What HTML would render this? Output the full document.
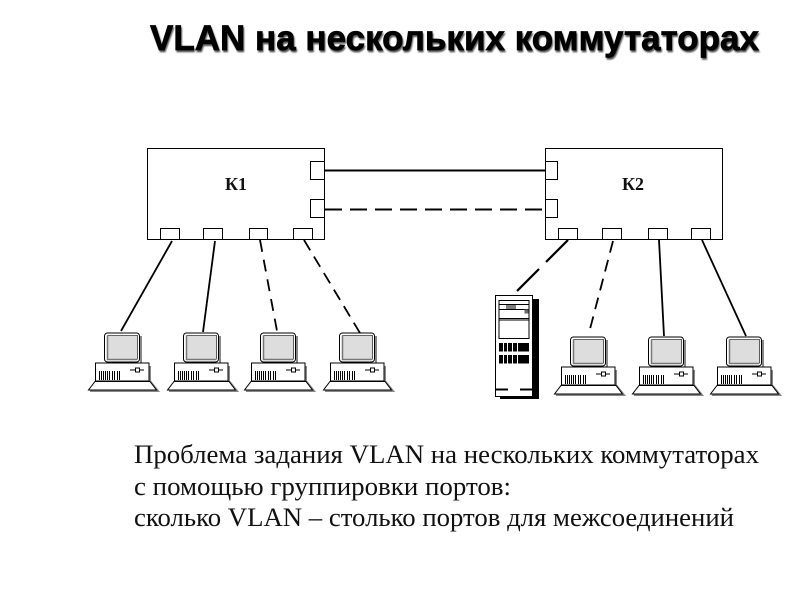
<!DOCTYPE html>
<html><head><meta charset="utf-8"><style>
html,body{margin:0;padding:0;background:#fff}
svg{display:block}
</style></head><body>
<svg width="800" height="600" viewBox="0 0 800 600" xmlns="http://www.w3.org/2000/svg">
<defs>
<filter id="soft" x="-5%" y="-30%" width="110%" height="160%"><feGaussianBlur stdDeviation=".9"/></filter>
<g id="pc">
  <path d="M141 336V363" stroke="#888" stroke-width="2" fill="none"/>
  <path d="M150 366V381L158 391H90" stroke="#888" stroke-width="2" fill="none"/>
  <rect x="104.500" y="333" width="35" height="29" rx="3" fill="#fff" stroke="#000" stroke-width="1"/>
  <rect x="108" y="336" width="29" height="23" fill="#ddd"/>
  <path d="M107.500 335.500V359.500H137" stroke="#777" stroke-width="1.500" fill="none"/>
  <path d="M107.500 335.500H137.500V359.500" stroke="#333" stroke-width=".8" fill="none"/>
  <rect x="95.500" y="363" width="53.500" height="18" fill="#fff" stroke="#000" stroke-width="1"/>
  <path d="M99.500 371V380M101.500 371V380M103.500 371V380M105.500 371V380M107.500 371V380M109.500 371V380M112.500 371V380M114.500 371V380M117.500 371V380M119.500 371V380" stroke="#000" stroke-width="1"/>
  <path d="M130 370H144" stroke="#000" stroke-width="1"/>
  <rect x="135.500" y="368" width="4" height="4" fill="#fff" stroke="#000" stroke-width="1"/>
  <path d="M95 381.500H150L156.500 390H88.500Z" fill="#fff" stroke="#000" stroke-width="1"/>
</g>
</defs>
<rect width="800" height="600" fill="#fff"/>

<text x="150" y="51" font-family="Liberation Sans, sans-serif" font-weight="bold" font-size="35" textLength="609" lengthAdjust="spacingAndGlyphs" fill="#555" stroke="#555" stroke-width=".5" filter="url(#soft)" transform="translate(1,1)">VLAN на нескольких коммутаторах</text>
<text x="150" y="50" font-family="Liberation Sans, sans-serif" font-weight="bold" font-size="35" textLength="609" lengthAdjust="spacingAndGlyphs" fill="#000" stroke="#000" stroke-width=".7">VLAN на нескольких коммутаторах</text>

<g fill="none" stroke="#000" stroke-width="1.800">
  <path d="M325 170.500H545" stroke-width="2"/>
  <path d="M325 209.500H545" stroke-width="2" stroke-dasharray="17 8"/>
  <path d="M172 241L121 331"/>
  <path d="M215 241L203 332"/>
  <path d="M260 240L277 331" stroke-dasharray="12 8"/>
  <path d="M304 240L360 333" stroke-dasharray="12 7.300"/>
  <path d="M568 240L517 291" stroke-width="2.200" stroke-dasharray="31 10"/>
  <path d="M613 241L590 329" stroke-dasharray="12 7.500"/>
  <path d="M659 240L664 336"/>
  <path d="M702 240L746 336"/>
</g>

<g fill="#fff" stroke="#000" stroke-width="1">
  <rect x="147.500" y="148.500" width="177" height="91"/>
  <rect x="310.500" y="161.500" width="14" height="18"/>
  <rect x="310.500" y="199.500" width="14" height="18"/>
  <rect x="160.500" y="228.500" width="19" height="11"/>
  <rect x="203.500" y="228.500" width="19" height="11"/>
  <rect x="249.500" y="228.500" width="18" height="11"/>
  <rect x="293.500" y="228.500" width="19" height="11"/>
</g>
<g fill="#fff" stroke="#000" stroke-width="1">
  <rect x="545.500" y="148.500" width="177" height="91"/>
  <rect x="545.500" y="161.500" width="12" height="18"/>
  <rect x="545.500" y="199.500" width="12" height="18"/>
  <rect x="558.500" y="228.500" width="19" height="11"/>
  <rect x="602.500" y="228.500" width="19" height="11"/>
  <rect x="648.500" y="228.500" width="19" height="11"/>
  <rect x="691.500" y="228.500" width="19" height="11"/>
</g>
<text x="225" y="190" font-family="Liberation Serif, serif" font-weight="bold" font-size="18" textLength="22" lengthAdjust="spacingAndGlyphs" fill="#111">К1</text>
<text x="622" y="190" font-family="Liberation Serif, serif" font-weight="bold" font-size="18" textLength="22" lengthAdjust="spacingAndGlyphs" fill="#111">К2</text>

<use href="#pc"/>
<use href="#pc" x="79"/>
<use href="#pc" x="156"/>
<use href="#pc" x="235"/>
<use href="#pc" x="466" y="4"/>
<use href="#pc" x="544" y="4"/>
<use href="#pc" x="622" y="4"/>

<rect x="500" y="299" width="39" height="100" fill="#000"/>
<rect x="495.500" y="295.500" width="37" height="101" fill="#fff" stroke="#000" stroke-width="1"/>
<rect x="499" y="300.500" width="30" height="38" fill="#fff" stroke="#000" stroke-width="1"/>
<path d="M499 304.500H529M499 309.500H529M499 318.500H529M499 320H529" stroke="#000" stroke-width="1" fill="none"/>
<path d="M507 305V309M509 305V309M511 305V309M513 305V309M515 305V309" stroke="#000" stroke-width="1"/>
<rect x="524.500" y="309.500" width="4" height="4" fill="#666"/>
<g fill="#000">
  <rect x="499" y="343" width="30" height="8.500"/>
  <rect x="499" y="355" width="30" height="8.500"/>
</g>
<path d="M503.500 343V351.500M507.500 343V351.500M512.500 343V351.500M517.500 343V351.500M503.500 355V363.500M507.500 355V363.500M512.500 355V363.500M517.500 355V363.500" stroke="#fff" stroke-width="1" fill="none"/>
<path d="M495 389.500H508M520 389.500H533" stroke="#000" stroke-width="2" fill="none"/>

<g font-family="Liberation Serif, serif" font-size="26" fill="#111">
  <text x="134" y="463" textLength="625" lengthAdjust="spacingAndGlyphs">Проблема задания VLAN на нескольких коммутаторах</text>
  <text x="134" y="495" textLength="377" lengthAdjust="spacingAndGlyphs">с помощью группировки портов:</text>
  <text x="134" y="526" textLength="600" lengthAdjust="spacingAndGlyphs">сколько VLAN – столько портов для межсоединений</text>
</g>
</svg>
</body></html>
